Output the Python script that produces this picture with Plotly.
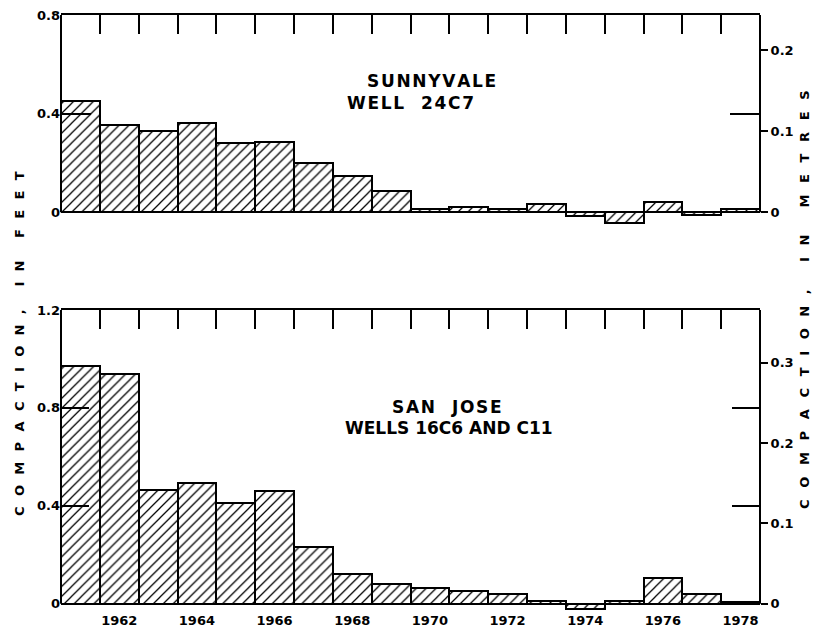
import plotly.graph_objects as go

years = list(range(1961, 1979))
sunnyvale_ft = [0.45, 0.355, 0.33, 0.36, 0.28, 0.285, 0.20, 0.145, 0.088,
                0.015, 0.02, 0.012, 0.033, -0.015, -0.045, 0.042, -0.01, 0.013]
sanjose_ft = [0.97, 0.94, 0.465, 0.495, 0.41, 0.46, 0.23, 0.12, 0.08,
              0.065, 0.053, 0.04, 0.01, -0.02, 0.01, 0.105, 0.04, 0.005]
year_labels = ["1962", "1964", "1966", "1968", "1970", "1972", "1974", "1976", "1978"]
year_label_vals = [1962, 1964, 1966, 1968, 1970, 1972, 1974, 1976, 1978]
top_ft_ticks = [0, 0.4, 0.8]
top_ft_text = ["0", "0.4", "0.8"]
top_m_ticks = [0, 0.1, 0.2]
top_m_text = ["0", "0.1", "0.2"]
bot_ft_ticks = [0, 0.4, 0.8, 1.2]
bot_ft_text = ["0", "0.4", "0.8", "1.2"]
bot_m_ticks = [0, 0.1, 0.2, 0.3]
bot_m_text = ["0", "0.1", "0.2", "0.3"]
FT_TO_M = 0.3048

TOP_RANGE = [-0.06, 0.8]
BOT_RANGE = [-0.03, 1.2]
XR = [1960.5, 1978.5]
boundaries = [y + 0.5 for y in range(1961, 1978)]

FONT = "DejaVu Sans"
fig = go.Figure()

def bar(vals, xa, ya):
    return go.Bar(
        x=years, y=vals, width=1, xaxis=xa, yaxis=ya,
        marker=dict(color="white", line=dict(color="black", width=2),
                    pattern=dict(shape="/", fgcolor="black", bgcolor="white",
                                 size=7, solidity=0.18, fillmode="replace")),
        showlegend=False, hoverinfo="skip")

fig.add_trace(bar(sunnyvale_ft, "x", "y"))
fig.add_trace(bar(sanjose_ft, "x2", "y2"))
# placeholder traces so overlay axes get drawn
for xa, ya in [("x3", "y"), ("x", "y3"), ("x4", "y2"), ("x2", "y4")]:
    fig.add_trace(go.Scatter(x=[], y=[], xaxis=xa, yaxis=ya, showlegend=False))

tickfont = dict(family=FONT, size=13, color="black", weight="bold")

common_x = dict(range=XR, showgrid=False, zeroline=False, showline=False, ticks="",
                automargin=False, ticklabeloverflow="allow")
top_x = dict(range=XR, showgrid=False, zeroline=False, showline=True, linecolor="black",
             linewidth=2, side="top", tickvals=boundaries, ticks="inside", ticklen=19,
             tickwidth=2, tickcolor="black", showticklabels=False, automargin=False)
ycommon = dict(showgrid=False, zeroline=False, showline=False, tickwidth=2,
               tickcolor="black", tickfont=tickfont, automargin=False,
               ticklabeloverflow="allow")

fig.update_layout(
    width=825, height=632,
    # page body has an 8px margin; plot area is placed at page x 61..760, y 15..611
    margin=dict(l=53, r=73, t=7, b=29, autoexpand=False),
    paper_bgcolor="white", plot_bgcolor="white",
    bargap=0,
    xaxis=dict(**common_x, anchor="y", showticklabels=False),
    xaxis2=dict(**common_x, anchor="y2", tickvals=year_label_vals, ticktext=year_labels,
                tickfont=tickfont),
    xaxis3=dict(**top_x, overlaying="x", anchor="y"),
    xaxis4=dict(**top_x, overlaying="x2", anchor="y2"),
    yaxis=dict(**ycommon, domain=[0.6443, 1.0], range=TOP_RANGE, anchor="x",
               tickvals=top_ft_ticks, ticktext=top_ft_text,
               ticks="inside", ticklen=30, mirror="ticks"),
    yaxis3=dict(**ycommon, range=[v * FT_TO_M for v in TOP_RANGE], overlaying="y",
                side="right", anchor="x", tickvals=top_m_ticks, ticktext=top_m_text,
                ticks="outside", ticklen=7),
    yaxis2=dict(**ycommon, domain=[0, 0.505], range=BOT_RANGE, anchor="x2",
                tickvals=bot_ft_ticks, ticktext=bot_ft_text,
                ticks="inside", ticklen=28, mirror="ticks"),
    yaxis4=dict(**ycommon, range=[v * FT_TO_M for v in BOT_RANGE], overlaying="y2",
                side="right", anchor="x2", tickvals=bot_m_ticks, ticktext=bot_m_text,
                ticks="outside", ticklen=7),
)

# frame side lines (from zero to top of each panel)
for xr, yr, top in [("x domain", "y", TOP_RANGE[1]), ("x2 domain", "y2", BOT_RANGE[1])]:
    for xv in (0, 1):
        fig.add_shape(type="line", xref=xr, yref=yr, x0=xv, x1=xv, y0=0, y1=top,
                      line=dict(color="black", width=2))

def hs(s):
    return "\u200a".join(list(s))

lab = dict(family=FONT, size=17, color="black", weight="bold")
for x, y, xr, yr, t in [(1970.05, 0.533, "x", "y", hs("SUNNYVALE")),
                        (1969.5, 0.442, "x", "y", hs("WELL  24C7")),
                        (1970.44, 0.805, "x2", "y2", hs("SAN  JOSE")),
                        (1970.5, 0.718, "x2", "y2", "WELLS 16C6 AND C11")]:
    fig.add_annotation(x=x, y=y, xref=xr, yref=yr, text=t, showarrow=False, font=lab,
                       xanchor="center", yanchor="middle")

def spaced(s, gap, wordgap):
    words = s.split(" ")
    return wordgap.join(gap.join(list(w)) for w in words)

titlefont = dict(family=FONT, size=13, color="black", weight="bold")
nb = "\u00a0"
fig.add_annotation(x=-0.0587, y=0.4497, xref="paper", yref="paper",
                   text=spaced("COMPACTION, IN FEET", nb * 2 + "\u200a", nb * 5),
                   textangle=-90, showarrow=False, font=titlefont,
                   xanchor="center", yanchor="middle")
fig.add_annotation(x=1.0644, y=0.522, xref="paper", yref="paper",
                   text=spaced("COMPACTION, IN METRES", nb * 2 + "\u2009", nb * 6),
                   textangle=-90, showarrow=False, font=titlefont,
                   xanchor="center", yanchor="middle")

fig.write_html("out.html")
